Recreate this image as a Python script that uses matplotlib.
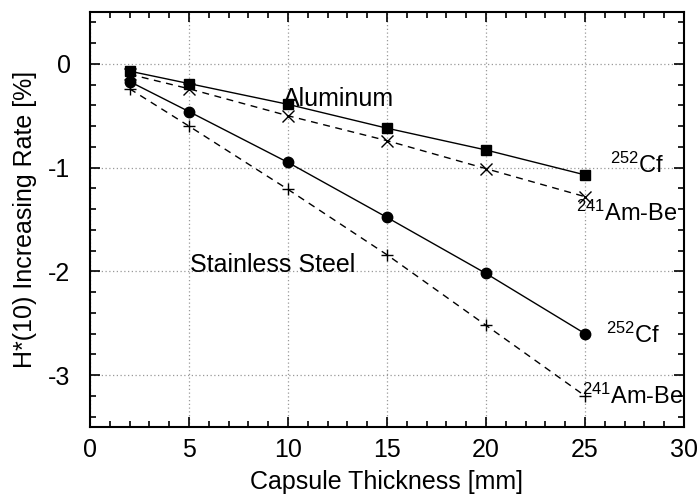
import matplotlib
matplotlib.use("Agg")
import matplotlib.pyplot as plt
from matplotlib.ticker import MultipleLocator

plt.rcParams['font.family'] = ['Liberation Sans', 'DejaVu Sans']
plt.rcParams['mathtext.fontset'] = 'custom'
plt.rcParams['mathtext.rm'] = 'Liberation Sans'
plt.rcParams['mathtext.it'] = 'Liberation Sans'
plt.rcParams['axes.unicode_minus'] = False
plt.rcParams['font.size'] = 18

thickness = [2, 5, 10, 15, 20, 25]
al_cf = [-0.07, -0.19, -0.39, -0.62, -0.83, -1.07]
al_ambe = [-0.10, -0.24, -0.50, -0.74, -1.01, -1.28]
ss_cf = [-0.17, -0.46, -0.95, -1.48, -2.02, -2.60]
ss_ambe = [-0.24, -0.60, -1.21, -1.84, -2.52, -3.20]

fig = plt.figure(figsize=(6.98, 4.98), dpi=100)
ax = fig.add_axes([90 / 698, 1 - 427 / 498, 594 / 698, 415 / 498])

ax.plot(thickness, al_cf, 'k-', marker='s', ms=7, lw=1)
ax.plot(thickness, al_ambe, 'k--', marker='x', ms=8.5, mew=1, lw=1, dashes=(5, 4))
ax.plot(thickness, ss_cf, 'k-', marker='o', ms=7.5, lw=1)
ax.plot(thickness, ss_ambe, 'k--', marker='+', ms=8, mew=1, lw=1, dashes=(5, 4))

ax.set_xlim(0, 30)
ax.set_ylim(-3.5, 0.5)
ax.xaxis.set_major_locator(MultipleLocator(5))
ax.xaxis.set_minor_locator(MultipleLocator(1))
ax.yaxis.set_major_locator(MultipleLocator(1))
ax.yaxis.set_minor_locator(MultipleLocator(0.2))
ax.tick_params(which='both', direction='in', top=True, right=True, width=1.2)
ax.tick_params(which='major', length=7)
ax.tick_params(which='minor', length=4)
ax.tick_params(axis='x', pad=8)
ax.tick_params(axis='y', pad=14)
for s in ax.spines.values():
    s.set_linewidth(1.5)
ax.grid(True, which='major', ls=(0, (1, 2)), color='#999999', lw=0.9)

ax.set_xlabel('Capsule Thickness [mm]', labelpad=6)
ax.set_ylabel('H*(10) Increasing Rate [%]', labelpad=8)

ax.text(9.75, -0.41, 'Aluminum')
ax.text(5.05, -2.01, 'Stainless Steel')
ax.text(26.25, -1.05, r'$^{252}$Cf', fontsize=17)
ax.text(24.55, -1.51, r'$^{241}$Am-Be', fontsize=17)
ax.text(26.05, -2.69, r'$^{252}$Cf', fontsize=17)
ax.text(24.85, -3.28, r'$^{241}$Am-Be', fontsize=17)

fig.savefig('out.png', dpi=100)
